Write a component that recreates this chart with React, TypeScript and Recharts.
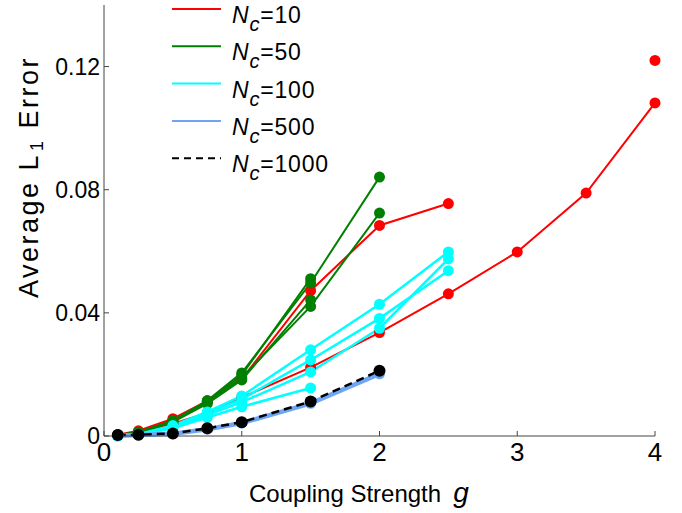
import React from "react";
import { LineChart, Line, XAxis, YAxis, Legend } from "recharts";

// coupling strengths g where the error was sampled
const gValues = [0.1, 0.25, 0.5, 0.75, 1, 1.5, 2, 2.5, 3, 3.5, 4];
const gLast = [4];

// average L1 error, one array per run
const nc10a = [0.0003, 0.0012, 0.004, 0.0075, 0.0125, 0.0223, 0.0336, 0.0462, 0.0598, 0.0789, 0.1082];
const nc10b = [0.0004, 0.0017, 0.0056, 0.0114, 0.0185, 0.0472, 0.0684, 0.0755];
const nc10c = [0.122];
const nc50a = [0.0003, 0.0012, 0.005, 0.0115, 0.0205, 0.0497, 0.0841];
const nc50b = [0.0003, 0.0011, 0.0047, 0.011, 0.019, 0.0421, 0.0724];
const nc50c = [0.0003, 0.0012, 0.0049, 0.0112, 0.0198, 0.0511];
const nc50d = [0.0003, 0.001, 0.0045, 0.0105, 0.0182, 0.0442];
const nc100a = [0.0002, 0.0006, 0.0034, 0.0078, 0.013, 0.028, 0.0428, 0.0598];
const nc100b = [0.0001, 0.0005, 0.003, 0.0072, 0.012, 0.0247, 0.0382, 0.0537];
const nc100c = [0.0001, 0.0005, 0.0028, 0.0068, 0.011, 0.0208, 0.035, 0.0575];
const nc100d = [0.0, 0.0004, 0.0025, 0.006, 0.0095, 0.0156];
const nc500 = [0.0001, 0.0003, 0.0007, 0.0022, 0.0042, 0.0106, 0.0202];
const nc1000 = [0.0003, 0.0004, 0.0008, 0.0025, 0.0045, 0.0112, 0.0212];

const xTicks = [0, 1, 2, 3, 4];
const yTicks = [0, 0.04, 0.08, 0.12];

const legendLabels = ["10", "50", "100", "500", "1000"];

const RED = "#ff0000";
const GREEN = "#008000";
const CYAN = "#00ffff";
const BLUE = "#6ea6f5";
const BLACK = "#000000";
const FONT = "'Liberation Sans', Arial, Helvetica, sans-serif";

const pts = (xs: number[], ys: number[]) => ys.map((y, i) => ({ x: xs[i], y }));

type Series = { key: string; data: { x: number; y: number }[]; color: string; width: number; dash?: string; r: number };

const series: Series[] = [
  { key: "nc10a", data: pts(gValues, nc10a), color: RED, width: 2, r: 5.5 },
  { key: "nc10b", data: pts(gValues, nc10b), color: RED, width: 2, r: 5.5 },
  { key: "nc10c", data: pts(gLast, nc10c), color: RED, width: 2, r: 5.5 },
  { key: "nc50a", data: pts(gValues, nc50a), color: GREEN, width: 2, r: 5.5 },
  { key: "nc50b", data: pts(gValues, nc50b), color: GREEN, width: 2, r: 5.5 },
  { key: "nc50c", data: pts(gValues, nc50c), color: GREEN, width: 2, r: 5.5 },
  { key: "nc50d", data: pts(gValues, nc50d), color: GREEN, width: 2, r: 5.5 },
  { key: "nc100a", data: pts(gValues, nc100a), color: CYAN, width: 2.5, r: 5.5 },
  { key: "nc100b", data: pts(gValues, nc100b), color: CYAN, width: 2.5, r: 5.5 },
  { key: "nc100c", data: pts(gValues, nc100c), color: CYAN, width: 2.5, r: 5.5 },
  { key: "nc100d", data: pts(gValues, nc100d), color: CYAN, width: 2.5, r: 5.5 },
  { key: "nc500", data: pts(gValues, nc500), color: BLUE, width: 4.5, r: 5.5 },
  { key: "nc1000", data: pts(gValues, nc1000), color: BLACK, width: 2.5, dash: "8 5", r: 6 },
];

const legendStyles = [
  { color: RED, dash: undefined },
  { color: GREEN, dash: undefined },
  { color: CYAN, dash: undefined },
  { color: BLUE, dash: undefined },
  { color: BLACK, dash: "7 5" },
];

function LegendBox() {
  return (
    <svg width={200} height={200} style={{ display: "block", overflow: "visible" }}>
      {legendLabels.map((lab, i) => {
        const y = 9 + i * 37.3;
        return (
          <g key={lab}>
            <line x1={12} x2={61} y1={y} y2={y} stroke={legendStyles[i].color} strokeWidth={2} strokeDasharray={legendStyles[i].dash} />
            <text x={72} y={y + 14} fontFamily={FONT} fontSize={23} letterSpacing={0.8} fill="#000">
              <tspan fontStyle="italic">N</tspan>
              <tspan fontStyle="italic" fontSize={20} dy={8}>c</tspan>
              <tspan dy={-8}>={lab}</tspan>
            </text>
          </g>
        );
      })}
    </svg>
  );
}

function XTick(props: any) {
  const { x, y, payload } = props;
  return (
    <text x={x} y={y} dy={18} textAnchor="middle" fontFamily={FONT} fontSize={26} fill="#000">
      {payload.value}
    </text>
  );
}

function YTick(props: any) {
  const { x, y, payload } = props;
  return (
    <text x={x} y={y} dy={8} textAnchor="end" fontFamily={FONT} fontSize={23} fill="#000">
      {payload.value === 0 ? "0" : payload.value.toFixed(2)}
    </text>
  );
}

function XLabel(props: any) {
  const vb = props.viewBox;
  return (
    <text x={vb.x + 145} y={vb.y + 66} textAnchor="start" fontFamily={FONT} fontSize={24} fill="#000">
      Coupling Strength
      <tspan fontStyle="italic" fontSize={28} dx={12}>g</tspan>
    </text>
  );
}

function YLabel(props: any) {
  const vb = props.viewBox;
  const cx = 38;
  const cy = vb.y + 172;
  return (
    <text x={cx} y={cy} transform={`rotate(-90 ${cx} ${cy})`} textAnchor="middle" fontFamily={FONT} fontSize={27} letterSpacing={2.5} fill="#000">
      Average L
      <tspan fontSize={18} dx={2} dy={5}>1</tspan>
      <tspan dx={10} dy={-5}>Error</tspan>
    </text>
  );
}

export default function App() {
  return (
    <div style={{ position: "absolute", left: 0, top: 0, width: 682, height: 513, background: "#fff" }}>
      <LineChart width={682} height={513} margin={{ top: 5, right: 27, bottom: 37, left: 44 }}>
        <XAxis
          type="number"
          dataKey="x"
          domain={[0, 4]}
          ticks={xTicks}
          allowDuplicatedCategory={false}
          height={40}
          stroke="#444"
          tickSize={-5}
          tickMargin={12}
          tick={<XTick />}
          label={<XLabel />}
        />
        <YAxis
          type="number"
          dataKey="y"
          domain={[0, 0.14]}
          ticks={yTicks}
          width={60}
          stroke="#444"
          tickSize={-5}
          tickMargin={9}
          tick={<YTick />}
          label={<YLabel />}
        />
        {series.map((s) => (
          <Line
            key={s.key}
            data={s.data}
            dataKey="y"
            name={s.key}
            type="linear"
            stroke={s.color}
            strokeWidth={s.width}
            strokeDasharray={s.dash}
            dot={{ r: s.r, fill: s.color, stroke: s.color, strokeWidth: 0, strokeDasharray: "" }}
            activeDot={false}
            isAnimationActive={false}
            legendType="none"
          />
        ))}
        <Legend
          layout="vertical"
          align="center"
          verticalAlign="middle"
          wrapperStyle={{ position: "absolute", top: 0, left: 160, width: 200 }}
          content={() => <LegendBox />}
        />
      </LineChart>
    </div>
  );
}
